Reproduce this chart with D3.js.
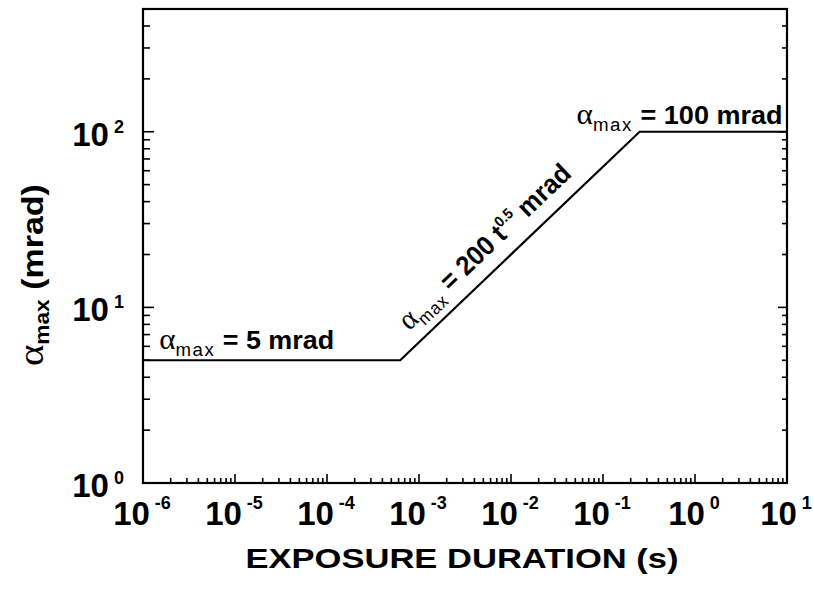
<!DOCTYPE html>
<html>
<head>
<meta charset="utf-8">
<script src="https://cdn.jsdelivr.net/npm/d3@7"></script>
<style>
  body { margin: 0; background: #fff; }
  svg { display: block; }
  text { font-family: "Liberation Sans", Arial, sans-serif; fill: #000; }
</style>
</head>
<body>
<svg id="chart" width="813" height="593"></svg>
<script>
// ---- data ----
const durations = [1e-6, 6.25e-4, 0.25, 10];      // exposure duration (s)
const alphaMax  = [5, 5, 100, 100];              // alpha_max (mrad)
const xTickExps = [-6, -5, -4, -3, -2, -1, 0, 1];
const yTickExps = [0, 1, 2];
const xDomain = [1e-6, 10];
const yDomain = [1, 500];

// ---- layout ----
const W = 813, H = 593;
const m = { left: 143, right: 26, top: 9, bottom: 110 };
const svg = d3.select("#chart");

const x = d3.scaleLog().domain(xDomain).range([m.left, W - m.right]);
const y = d3.scaleLog().domain(yDomain).range([H - m.bottom, m.top]);

const x0 = m.left, x1 = W - m.right, y0 = H - m.bottom, y1 = m.top;

function logTicks(lo, hi) {
  const out = [];
  for (let e = Math.floor(Math.log10(lo)); e <= Math.ceil(Math.log10(hi)); e++) {
    for (let k = 1; k <= 9; k++) {
      const v = k * Math.pow(10, e);
      if (v >= lo * 0.9999 && v <= hi * 1.0001) out.push({ v, major: k === 1 });
    }
  }
  return out;
}
const xt = logTicks(xDomain[0], xDomain[1]);
const yt = logTicks(yDomain[0], yDomain[1]);

const g = svg.append("g");

// x ticks (bottom, inward)
g.selectAll(".xt").data(xt).enter().append("line")
  .attr("x1", d => x(d.v)).attr("x2", d => x(d.v))
  .attr("y1", y0).attr("y2", d => y0 - (d.major ? 9 : 5))
  .attr("stroke", "#000").attr("stroke-width", 1.6);

// y ticks left and right (inward)
g.selectAll(".ytl").data(yt).enter().append("line")
  .attr("x1", x0).attr("x2", d => x0 + (d.major ? 11 : 7))
  .attr("y1", d => y(d.v)).attr("y2", d => y(d.v))
  .attr("stroke", "#000").attr("stroke-width", 1.6);
g.selectAll(".ytr").data(yt).enter().append("line")
  .attr("x1", x1).attr("x2", d => x1 - (d.major ? 9 : 5))
  .attr("y1", d => y(d.v)).attr("y2", d => y(d.v))
  .attr("stroke", "#000").attr("stroke-width", 1.6);

// frame
g.append("rect").attr("x", x0).attr("y", y1)
  .attr("width", x1 - x0).attr("height", y0 - y1)
  .attr("fill", "none").attr("stroke", "#000").attr("stroke-width", 2.2);

// data line
const line = d3.line().x(d => x(d[0])).y(d => y(d[1]));
g.append("path").datum(durations.map((d, i) => [d, alphaMax[i]]))
  .attr("d", line).attr("fill", "none").attr("stroke", "#000").attr("stroke-width", 2.2);

// x tick labels
xTickExps.forEach(e => {
  const t = g.append("text").attr("x", x(Math.pow(10, e)) - 1).attr("y", 525)
    .attr("text-anchor", "middle").attr("font-weight", "bold");
  t.append("tspan").attr("font-size", 33).text("10");
  t.append("tspan").attr("font-size", 18).attr("dy", -16).text("\u00a0" + (e < 0 ? "-" + (-e) : e));
});

// y tick labels
yTickExps.forEach(e => {
  const t = g.append("text").attr("x", 124).attr("y", y(Math.pow(10, e)) + 14)
    .attr("text-anchor", "end").attr("font-weight", "bold");
  t.append("tspan").attr("font-size", 33).text("10");
  t.append("tspan").attr("font-size", 18).attr("dy", -13).text("\u00a0" + e);
});

// x axis title
g.append("text").attr("x", (x0 + x1) / 2 - 3).attr("y", 568)
  .attr("text-anchor", "middle").attr("font-weight", "bold").attr("font-size", 28)
  .attr("textLength", 433).attr("lengthAdjust", "spacingAndGlyphs")
  .text("EXPOSURE DURATION (s)");

// helper: alpha_max label scaled along baseline to a target width
function alphaLabel(parent, parts, targetW) {
  const t = parent.append("text");
  parts.forEach(p => {
    const s = t.append("tspan").attr("font-size", p.fs).text(p.text);
    if (p.serif) s.attr("font-family", "Liberation Serif, serif");
    if (p.bold) s.attr("font-weight", "bold");
    if (p.dy) s.attr("dy", p.dy);
    if (p.ls) s.attr("letter-spacing", p.ls);
  });
  const w = t.node().getBBox().width;
  t.attr("transform", `scale(${targetW / w}, 1)`);
  return t;
}

// y axis title
const yg = g.append("g").attr("transform", `translate(43, 366) rotate(-90)`);
alphaLabel(yg, [
  { text: "\u03b1", fs: 36, serif: true },
  { text: "max", fs: 20, bold: true, dy: 6 },
  { text: "\u00a0(mrad)", fs: 30, bold: true, dy: -6 }
], 182);

// annotations
const g1 = g.append("g").attr("transform", `translate(${x(1.5e-6)}, ${y(5) - 11})`);
alphaLabel(g1, [
  { text: "\u03b1", fs: 30, serif: true },
  { text: "max", fs: 18, dy: 7, ls: 1.5 },
  { text: " = 5 mrad", fs: 26, bold: true, dy: -7 }
], 175);

const g3 = g.append("g").attr("transform", `translate(${x(0.25) - 63}, ${y(100) - 8})`);
alphaLabel(g3, [
  { text: "\u03b1", fs: 30, serif: true },
  { text: "max", fs: 18, dy: 7, ls: 1.5 },
  { text: " = 100 mrad", fs: 26, bold: true, dy: -7 }
], 206);

const ang = Math.atan2(y(100) - y(5), x(0.25) - x(6.25e-4)) * 180 / Math.PI;
const g2 = g.append("g")
  .attr("transform", `translate(${x(6.25e-4) + 9}, ${y(5) - 29}) rotate(${ang})`);
alphaLabel(g2, [
  { text: "\u03b1", fs: 30, serif: true },
  { text: "max", fs: 18, dy: 7, ls: 1 },
  { text: " = 200 t", fs: 27, bold: true, dy: -7 },
  { text: "0.5", fs: 15, bold: true, dy: -12 },
  { text: " mrad", fs: 27, bold: true, dy: 12 }
], 226);
</script>
</body>
</html>
